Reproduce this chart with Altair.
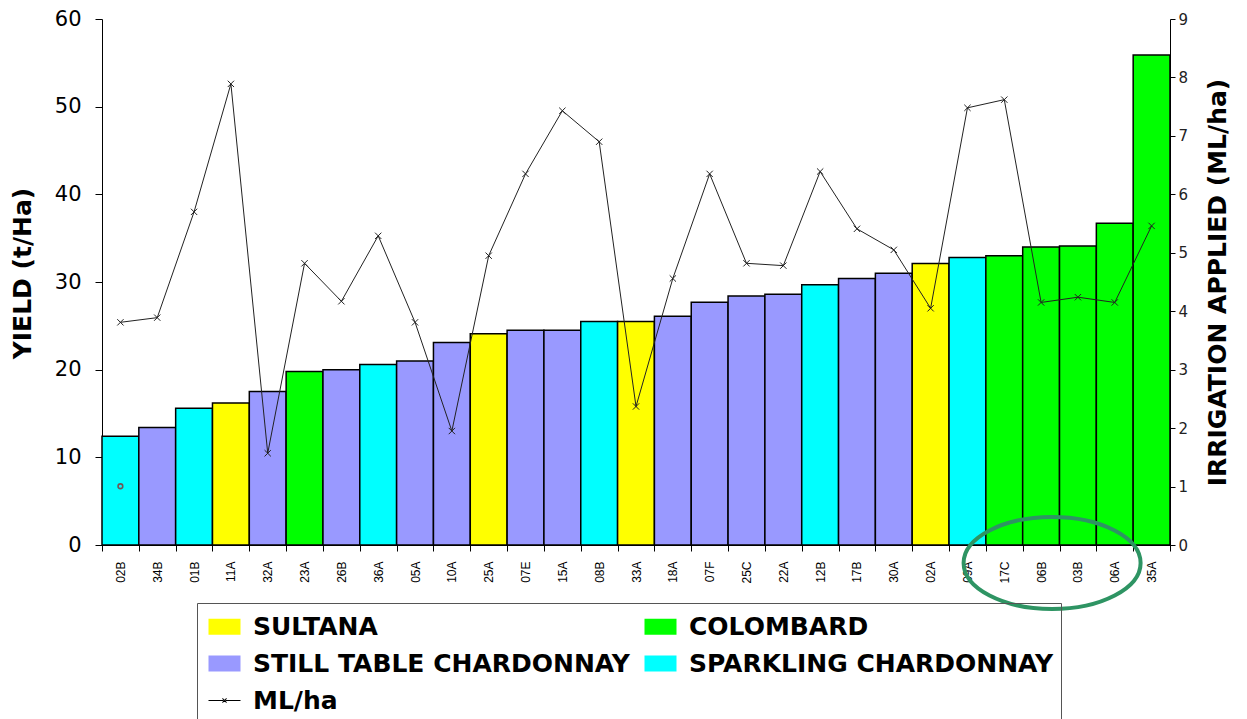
import altair as alt
import pandas as pd

# ---- data ----
blocks = ["02B", "34B", "01B", "11A", "32A", "23A", "26B", "36A", "05A", "10A",
          "25A", "07E", "15A", "08B", "33A", "18A", "07F", "25C", "22A", "12B",
          "17B", "30A", "02A", "09A", "17C", "06B", "03B", "06A", "35A"]
varieties = ["SPARKLING CHARDONNAY", "STILL TABLE CHARDONNAY", "SPARKLING CHARDONNAY", "SULTANA",
             "STILL TABLE CHARDONNAY", "COLOMBARD", "STILL TABLE CHARDONNAY", "SPARKLING CHARDONNAY",
             "STILL TABLE CHARDONNAY", "STILL TABLE CHARDONNAY", "SULTANA", "STILL TABLE CHARDONNAY",
             "STILL TABLE CHARDONNAY", "SPARKLING CHARDONNAY", "SULTANA", "STILL TABLE CHARDONNAY",
             "STILL TABLE CHARDONNAY", "STILL TABLE CHARDONNAY", "STILL TABLE CHARDONNAY",
             "SPARKLING CHARDONNAY", "STILL TABLE CHARDONNAY", "STILL TABLE CHARDONNAY", "SULTANA",
             "SPARKLING CHARDONNAY", "COLOMBARD", "COLOMBARD", "COLOMBARD", "COLOMBARD", "COLOMBARD"]
yield_t = [12.4, 13.4, 15.6, 16.2, 17.5, 19.8, 20.0, 20.6, 21.0, 23.1,
           24.1, 24.5, 24.5, 25.5, 25.5, 26.1, 27.7, 28.4, 28.6, 29.7,
           30.4, 31.0, 32.1, 32.8, 33.0, 34.0, 34.1, 36.7, 55.9]
irrigation = [3.81, 3.89, 5.70, 7.89, 1.57, 4.82, 4.17, 5.29, 3.81, 1.95,
              4.95, 6.35, 7.43, 6.90, 2.37, 4.56, 6.35, 4.82, 4.78, 6.39,
              5.41, 5.05, 4.05, 7.48, 7.62, 4.15, 4.24, 4.15, 5.46]

legend_items = ["SULTANA", "COLOMBARD", "STILL TABLE CHARDONNAY", "SPARKLING CHARDONNAY", "ML/ha"]
legend_colors = ["#FFFF00", "#00FF00", "#9999FF", "#00FFFF", "#000000"]

stray_block = ["02B"]
stray_value = [6.7]

# ---- frames ----
df = pd.DataFrame({"block": blocks, "variety": varieties, "yield": yield_t, "ml": irrigation})
leg_df = pd.DataFrame({"variety": legend_items})
stray_df = pd.DataFrame({"block": stray_block, "yield": stray_value})
one = pd.DataFrame({"a": [0]})

W, H = 1068, 526
FONT = "DejaVu Sans"

rect_path = "M-1,-0.5H1V0.5H-1Z"
line_path = ("M-1,-0.03H1V0.03H-1Z "
             "M-0.15,-0.11L-0.11,-0.15L0.15,0.11L0.11,0.15Z "
             "M-0.15,0.11L-0.11,0.15L0.15,-0.11L0.11,-0.15Z")

x_enc = alt.X("block:N", sort=blocks,
              scale=alt.Scale(paddingInner=0, paddingOuter=0),
              axis=alt.Axis(title=None, labelAngle=270, labelFont="Liberation Sans",
                            labelFontSize=12, labelColor="black", tickBand="extent",
                            tickSize=6, tickColor="black", domainColor="black",
                            labelPadding=10, grid=False))

y_left = alt.Y("yield:Q", scale=alt.Scale(domain=[0, 60], nice=False),
               axis=alt.Axis(title="YIELD (t/Ha)", values=list(range(0, 61, 10)),
                             labelFont=FONT, labelFontSize=21, labelColor="black",
                             tickSize=7, tickColor="black", domainColor="black",
                             labelPadding=14, titleFont=FONT, titleFontSize=25,
                             titleFontWeight="bold", titleColor="black",
                             titlePadding=19, titleY=254, grid=False))

y_right = alt.Y("ml:Q", scale=alt.Scale(domain=[0, 9], nice=False),
                axis=alt.Axis(title="IRRIGATION APPLIED (ML/ha)", orient="right",
                              values=list(range(0, 10)), labelFont=FONT, labelFontSize=15,
                              labelColor="#222222", tickSize=5, tickColor="black",
                              domainColor="black", labelPadding=3, titleFont=FONT,
                              titleFontSize=25, titleFontWeight="bold", titleColor="black",
                              titleAngle=270, titleBaseline="top", titlePadding=18,
                              grid=False))

color_scale = alt.Scale(domain=legend_items, range=legend_colors)

legend = alt.Legend(title=None, orient="none", legendX=95, legendY=584, columns=2,
                    direction="horizontal", gridAlign="all", columnPadding=10,
                    rowPadding=7, padding=7, symbolOffset=4, strokeColor="#555555",
                    labelFont=FONT, labelFontSize=25, labelFontWeight="bold",
                    labelColor="black", labelLimit=600, labelOffset=12, symbolSize=1024,
                    symbolStrokeColor="#333333", symbolStrokeWidth=1, symbolOpacity=1)

bars = alt.Chart(df).mark_bar(stroke="black", strokeWidth=1.5).encode(
    x=x_enc, y=y_left,
    color=alt.Color("variety:N", scale=color_scale, legend=legend),
)

stray = alt.Chart(stray_df).mark_point(shape="circle", size=22, color="#A01010",
                                       strokeWidth=1.6, filled=False).encode(
    x=alt.X("block:N", sort=blocks), y=y_left)

legend_layer = alt.Chart(leg_df).mark_point(opacity=0, filled=True).encode(
    color=alt.Color("variety:N", scale=color_scale, legend=legend),
    shape=alt.Shape("variety:N",
                    scale=alt.Scale(domain=legend_items, range=[rect_path] * 4 + [line_path]),
                    legend=legend),
)

ellipse = alt.Chart(one).mark_point(
    shape="M-1,0A1,0.52,0,1,0,1,0A1,0.52,0,1,0,-1,0Z", size=177 * 177,
    filled=False, stroke="#2E9463", strokeWidth=4, opacity=1, xOffset=11,
).encode(x=alt.datum("06B"), y=alt.datum(-2.05))

line = alt.Chart(df).mark_line(color="#222222", strokeWidth=1).encode(
    x=alt.X("block:N", sort=blocks), y=y_right)
marks = alt.Chart(df).mark_point(shape="M-1,-1L1,1M-1,1L1,-1", size=40, color="#222222",
                                 strokeWidth=1, filled=False, opacity=1).encode(
    x=alt.X("block:N", sort=blocks), y=y_right)

left = alt.layer(bars, stray, legend_layer, ellipse)
right = alt.layer(line, marks)

chart = alt.layer(left, right).resolve_scale(y="independent").properties(
    width=W, height=H,
    autosize=alt.AutoSizeParams(type="none"),
    padding={"left": 94, "top": 11, "right": 65, "bottom": 176},
    background="white",
).configure_view(stroke=None)

chart.save("out.html", embed_options={"renderer": "svg", "actions": False})
